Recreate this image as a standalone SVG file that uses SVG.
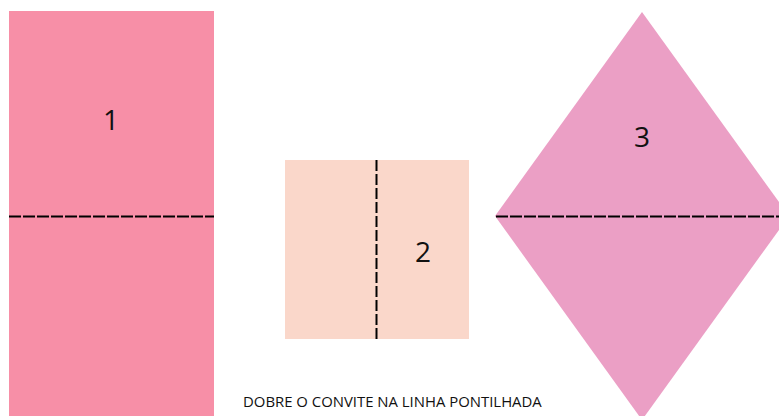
<svg xmlns="http://www.w3.org/2000/svg" width="779" height="416" viewBox="0 0 779 416">
<style>
.lbl{font-family:"Open Sans","Noto Sans",sans-serif;font-size:28px;fill:#111;text-anchor:middle}
.note{font-family:"Open Sans","Noto Sans",sans-serif;font-size:14.9px;fill:#111}
.fold{stroke:#000;stroke-width:2;fill:none}
</style>
<rect width="779" height="416" fill="#fff"/>
<g id="node1">
<rect x="9" y="11" width="205" height="410" fill="#f78fa7"/>
<text class="lbl" x="111" y="130">1</text>
</g>
<g id="node2">
<rect x="285" y="160" width="184" height="179" fill="#fad7ca"/>
<text class="lbl" x="423" y="262">2</text>
</g>
<g id="node3">
<polygon points="642,12 789,216 642,420 495,216" fill="#eb9fc5"/>
<text class="lbl" x="642" y="147">3</text>
</g>
<g id="connectors">
<line class="fold" x1="9" y1="216.5" x2="214" y2="216.5" stroke-dasharray="12,2"/>
<line class="fold" x1="376.5" y1="160" x2="376.5" y2="340" stroke-dasharray="11,3"/>
<line class="fold" x1="496" y1="216.5" x2="779" y2="216.5" stroke-dasharray="12,2"/>
</g>
<text class="note" x="243" y="407">DOBRE O CONVITE NA LINHA PONTILHADA</text>
</svg>
